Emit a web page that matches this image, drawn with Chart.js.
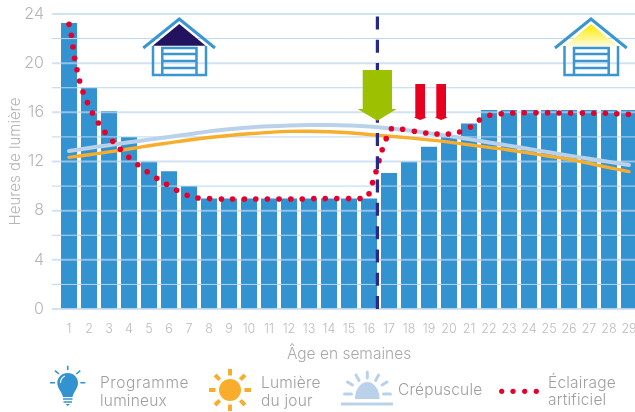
<!DOCTYPE html>
<html lang="fr">
<head>
    <meta charset="UTF-8">
    <title>Programme lumineux</title>
    <script src="https://cdn.jsdelivr.net/npm/chart.js@4"></script>
    <style>
        html, body { margin: 0; padding: 0; background: #fff; }
        #wrap { position: relative; width: 635px; height: 412px; overflow: hidden; }
        #chartBox { position: absolute; left: 0; top: 0; width: 645px; height: 412px; }
        #icons { position: absolute; left: 0; top: 0; }
        #icons text { font-family: Inter, sans-serif; font-size: 15.5px; font-weight: 300; letter-spacing: 0.2px; fill: #9f9f9f; }
        #icons text.wide { letter-spacing: 0.6px; }
    </style>
</head>
<body>
    <div id="wrap">
        <div id="chartBox"><canvas id="lightChart"></canvas></div>
        <svg id="icons" width="635" height="412">
            <defs>
                <linearGradient id="glow" x1="0" y1="0" x2="0" y2="1">
                    <stop offset="0.15" stop-color="#ffed1a"/>
                    <stop offset="1" stop-color="#fffbe0"/>
                </linearGradient>
            </defs>

            <!-- arrows -->
            <path d="M362.7 70H392V109H396.7L377.3 120.7L357.7 109H362.7Z" fill="#9dc100"/>
            <path d="M415.3 84H425V117L426.5 117.5L420.2 120L414 117.5L415.3 117Z" fill="#e8001f"/>
            <path d="M436.3 84H446V117L447.5 117.5L441.2 120L435 117.5L436.3 117Z" fill="#e8001f"/>

            <!-- night house -->
            <path d="M152.7 45.7L179.3 24L205.7 45.7Z" fill="#23135f"/>
            <g fill="none" stroke="#3a96d0" stroke-width="2.5">
                <path d="M143.3 48L179.3 19L215 48" stroke-width="3"/>
                <path d="M153 46V75H206V46"/>
                <path d="M162.3 75V48H196.5V75M162.3 54H196.5M162.3 61H196.5M162.3 68H196.5"/>
            </g>

            <!-- day house -->
            <path d="M564.5 46.5L591 24L618 46.5Z" fill="url(#glow)"/>
            <g fill="none" stroke="#3a96d0" stroke-width="2.5">
                <path d="M555 48L591 19L626.7 48" stroke-width="3"/>
                <path d="M564.5 46V75H618V46"/>
                <path d="M574 75V48H608.7V75M574 54H608.7M574 61H608.7M574 68H608.7"/>
            </g>

            <!-- bulb -->
            <path d="M67.7 373C61.5 373 57.3 377.5 57.3 383C57.3 388.5 62 392 63 397H72.5C73.5 392 78 388.5 78 383C78 377.5 73.9 373 67.7 373Z" fill="#3392d0"/>
            <path d="M60.5 383C60.5 379.5 62.5 377 65 376" fill="none" stroke="#fff" stroke-width="1.2"/>
            <g stroke="#3392d0" stroke-width="1.6" fill="none">
                <path d="M63 399H72.5M63.5 402H72M67.7 365.7V370M55 370.7L59 374M80.3 370.7L76.3 374M50 382.7H55M80.3 382.7H85.3"/>
            </g>
            <path d="M65.5 404H70L67.7 406Z" fill="#3392d0"/>
            <text class="wide" x="100" y="388">Programme</text>
            <text x="100" y="406">lumineux</text>

            <!-- sun -->
            <circle cx="230" cy="390" r="11" fill="#f8ae2c"/>
            <g stroke="#f8ae2c" stroke-width="4" fill="none">
                <path d="M230 369V375.5M230 404.5V411M209 390H215.5M244.5 390H251M215 375L219.7 379.7M245 375L240.3 379.7M215 405L219.7 400.3M245 405L240.3 400.3"/>
            </g>
            <text x="261" y="388">Lumière</text>
            <text x="261" y="406">du jour</text>

            <!-- dusk -->
            <path d="M355 399A12.3 17 0 0 1 379.6 399Z" fill="#b9d2ea"/>
            <g stroke="#b9d2ea" fill="none" stroke-width="3">
                <path d="M341 404H393"/>
                <path d="M367.3 372V378M356 375L359 380.5M378.6 375L375.6 380.5M347.5 382L352.5 385M387 382L382 385M344.5 394H351.5M383.5 394H390.5" stroke-linecap="round"/>
            </g>
            <text x="398" y="395">Crépuscule</text>

            <!-- artificial light -->
            <g fill="#e4002b">
                <circle cx="501.7" cy="391.3" r="2.6"/>
                <circle cx="513" cy="391.3" r="2.6"/>
                <circle cx="524.7" cy="391.3" r="2.6"/>
                <circle cx="536.3" cy="391.3" r="2.6"/>
            </g>
            <text x="548" y="388">Éclairage</text>
            <text x="548" y="405">artificiel</text>
        </svg>
    </div>

    <script>
        const weeks = ['1','2','3','4','5','6','7','8','9','10','11','12','13','14','15','16','17','18','19','20','21','22','23','24','25','26','27','28','29'];
        const programHours = [23.27,18,16.1,14,12,11.2,10,9,9,9,9,9,9,9,9,9,11.07,12,13.2,14.07,15.1,16.2,16.2,16.2,16.2,16.2,16.2,16.2,16.2];
        const daylightHours = [12.34,12.55,12.78,13.02,13.28,13.52,13.75,13.95,14.12,14.26,14.37,14.45,14.46,14.42,14.34,14.2,14.06,13.92,13.76,13.58,13.36,13.15,12.94,12.69,12.43,12.18,11.85,11.5,11.17];
        const duskHours = [12.86,13.1,13.33,13.56,13.78,14,14.22,14.45,14.62,14.76,14.86,14.93,14.97,14.97,14.93,14.85,14.7,14.52,14.3,14.08,13.82,13.55,13.29,13.02,12.75,12.48,12.23,11.97,11.72];

        // the red dots do not sit on whole weeks
        const artificialWeeks = [1,1.12,1.2,1.28,1.4,1.53,1.7,1.92,2.17,2.47,2.8,3.19,3.57,3.99,4.44,4.91,5.39,5.88,6.38,6.91,7.45,8.03,8.62,9.18,9.77,10.34,10.92,11.5,12.09,12.66,13.24,13.81,14.39,14.98,15.55,16,16.18,16.35,16.5,16.66,16.86,17.12,17.68,18.27,18.84,19.4,19.97,20.53,21.07,21.52,22.04,22.61,23.19,23.76,24.35,24.93,25.5,26.08,26.67,27.24,27.82,28.39,28.97];
        const artificialHours = [23.16,22.27,21.32,20.4,19.47,18.55,17.66,16.79,15.95,15.13,14.37,13.64,12.99,12.34,11.74,11.17,10.63,10.14,9.66,9.25,9.03,8.98,8.95,8.95,8.95,8.95,8.95,8.95,8.95,8.95,8.98,8.98,8.98,8.98,8.98,9.38,10.28,11.17,12.07,12.96,13.86,14.67,14.62,14.46,14.32,14.24,14.24,14.4,14.81,15.38,15.76,15.89,15.95,15.97,15.97,15.97,15.95,15.95,15.95,15.92,15.92,15.89,15.84];

        const transferWeek = 16.42;
        const transferHours = [23.8, 0];

        const axisFont = { family: 'Inter, sans-serif', weight: '300' };

        // grid goes over the bars but under the lines, so it is drawn by hand
        const gridOverBars = {
            id: 'gridOverBars',
            afterDatasetDraw(chart, args) {
                if (args.index !== 0) return;
                const { ctx, chartArea, scales } = chart;
                ctx.save();
                scales.y.ticks.forEach(t => {
                    const y = scales.y.getPixelForValue(t.value);
                    const major = t.value % 4 === 0;
                    ctx.beginPath();
                    ctx.strokeStyle = major ? 'rgba(190,214,238,0.7)' : '#bcd6ee';
                    ctx.lineWidth = major ? 2 : 1;
                    ctx.moveTo(52, y);
                    ctx.lineTo(chartArea.right, y);
                    ctx.stroke();
                });
                ctx.restore();
            }
        };

        new Chart(document.getElementById('lightChart'), {
            data: {
                labels: weeks,
                datasets: [
                    { type: 'bar', data: programHours, backgroundColor: '#3392d0', barPercentage: 0.8, categoryPercentage: 1, grouped: false, order: 4 },
                    { type: 'line', data: daylightHours, borderColor: '#f8ae2c', borderWidth: 3.4, borderCapStyle: 'round', pointRadius: 0, tension: 0.4, order: 3 },
                    { type: 'line', data: duskHours, borderColor: '#b9d2ea', borderWidth: 4, borderCapStyle: 'round', pointRadius: 0, tension: 0.4, order: 2 },
                    {
                        type: 'scatter', xAxisID: 'xFree', showLine: false, order: 1,
                        data: artificialWeeks.map((w, i) => ({ x: w, y: artificialHours[i] })),
                        pointRadius: 2.8, pointBackgroundColor: '#e4002b', pointBorderWidth: 0
                    },
                    {
                        type: 'scatter', xAxisID: 'xFree', showLine: true, order: 0,
                        data: transferHours.map(h => ({ x: transferWeek, y: h })),
                        borderColor: '#27288e', borderWidth: 3.2, borderDash: [13, 10.3], pointRadius: 0, clip: false
                    }
                ]
            },
            options: {
                responsive: true,
                maintainAspectRatio: false,
                animation: false,
                layout: { padding: { top: 14, right: 6, bottom: 48, left: 0 } },
                plugins: { legend: { display: false }, tooltip: { enabled: false } },
                scales: {
                    x: {
                        offset: true,
                        grid: { display: false },
                        border: { display: false },
                        ticks: { color: '#bbbbbb', font: { ...axisFont, size: 12.5 }, padding: 5, maxRotation: 0, autoSkip: false },
                        title: { display: true, text: 'Âge en semaines', color: '#a9a9a9', font: { ...axisFont, size: 15.5 }, padding: { top: 8, bottom: 0 } },
                        afterFit(scale) { scale.height = 55; }
                    },
                    xFree: { type: 'linear', min: 0.5, max: 29.5, display: false },
                    y: {
                        min: 0,
                        max: 24,
                        // invisible tick marks keep the labels away from the bars
                        grid: { drawOnChartArea: false, tickLength: 15, tickColor: 'transparent' },
                        border: { display: false },
                        ticks: {
                            stepSize: 2,
                            autoSkip: false,
                            padding: 0,
                            color: '#b5b5b5',
                            font: { ...axisFont, size: 16 },
                            callback: v => (v % 4 === 0 ? v : '')
                        },
                        title: { display: true, text: 'Heures de lumière', color: '#b5b5b5', font: { ...axisFont, size: 15 }, padding: { top: 6, bottom: 0 } },
                        afterFit(scale) { scale.width = 59; }
                    }
                }
            },
            plugins: [gridOverBars]
        });
    </script>
</body>
</html>
